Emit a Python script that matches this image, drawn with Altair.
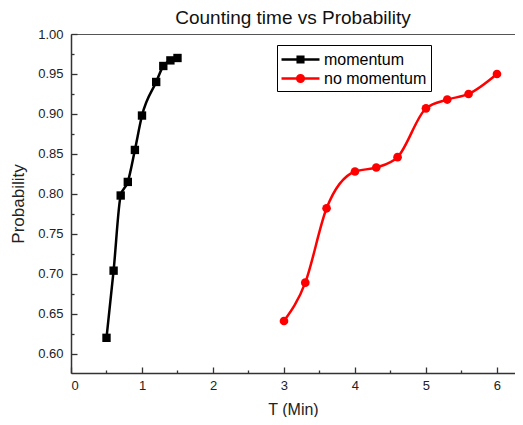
import altair as alt
import pandas as pd

# ---- data ----
mom_t = [0.5, 0.6, 0.7, 0.8, 0.9, 1.0, 1.2, 1.3, 1.4, 1.5]
mom_p = [0.620, 0.704, 0.798, 0.815, 0.855, 0.898, 0.940, 0.960, 0.967, 0.970]
nomom_t = [3.0, 3.3, 3.6, 4.0, 4.3, 4.6, 5.0, 5.3, 5.6, 6.0]
nomom_p = [0.641, 0.689, 0.782, 0.828, 0.833, 0.846, 0.907, 0.918, 0.925, 0.950]
series_names = ["momentum", "no momentum"]
series_colors = ["#000000", "#ff0000"]
x_major = [0, 1, 2, 3, 4, 5, 6]
x_minor = [0.5, 1.5, 2.5, 3.5, 4.5, 5.5]
y_major = [0.60, 0.65, 0.70, 0.75, 0.80, 0.85, 0.90, 0.95, 1.00]
y_minor = [0.625, 0.675, 0.725, 0.775, 0.825, 0.875, 0.925, 0.975]

FONT = "Liberation Sans"
AX = "#333333"
X_MAX = 6.254
Y_MIN, Y_MAX = 0.576, 1.0

mom = pd.DataFrame({"t": mom_t, "p": mom_p, "series": series_names[0]})
nom = pd.DataFrame({"t": nomom_t, "p": nomom_p, "series": series_names[1]})
allpts = pd.concat([mom, nom], ignore_index=True)

xs = alt.Scale(domain=[0, X_MAX], nice=False, zero=False)
ys = alt.Scale(domain=[Y_MIN, Y_MAX], nice=False, zero=False)


def X(axis):
    return alt.X("t:Q", scale=xs, axis=axis)


def Y(axis):
    return alt.Y("p:Q", scale=ys, axis=axis)


main_x = alt.Axis(orient="bottom", values=x_major, format="d", title="T (Min)",
                  ticks=False, tickSize=0, labelPadding=6, grid=False,
                  domainColor=AX, domainWidth=1.5, labelFontSize=13,
                  titleFontSize=16, titlePadding=9, labelColor="#222222",
                  titleColor="#222222", titleFontWeight="normal")
main_y = alt.Axis(orient="left", values=y_major, format=".2f", title="Probability",
                  ticks=False, tickSize=0, labelPadding=8, grid=False,
                  domainColor=AX, domainWidth=1.5, labelFontSize=13,
                  titleFontSize=17, titlePadding=10, labelColor="#222222",
                  titleColor="#222222", titleFontWeight="normal")


def tick_axis(orient, vals, size):
    return alt.Axis(orient=orient, values=vals, tickSize=size, offset=-size,
                    labels=False, domain=False, grid=False, title=None,
                    tickColor=AX, tickWidth=1.3)


l_mom_line = alt.Chart(mom).mark_line(color=series_colors[0], strokeWidth=2.5,
                                      interpolate="monotone").encode(x=X(main_x), y=Y(main_y))
l_mom_pts = alt.Chart(mom).mark_square(color=series_colors[0], size=70, opacity=1).encode(
    x=X(None), y=Y(None))
l_nom_line = alt.Chart(nom).mark_line(color=series_colors[1], strokeWidth=2.5,
                                      interpolate="monotone").encode(x=X(None), y=Y(None))
l_nom_pts = alt.Chart(nom).mark_circle(color=series_colors[1], size=75, opacity=1).encode(
    x=X(None), y=Y(None))

# legend symbols: a line segment with the series marker (18 px symbol box, path shifted right)
sq_path = "M-1.11,0H3.11M0.69,-0.31H1.31V0.31H0.69Z"
ci_path = "M-1.11,0H3.11M1.37,0A0.37,0.37,0,1,1,0.63,0A0.37,0.37,0,1,1,1.37,0Z"
leg = alt.Legend(orient="none", legendX=206, legendY=11, title=None,
                 strokeColor="#000000", fillColor="#ffffff", padding=4,
                 labelFont=FONT, labelFontSize=16, labelColor="#000000",
                 labelOffset=22, symbolSize=324, symbolStrokeWidth=2.5,
                 rowPadding=0, symbolOpacity=1, cornerRadius=0)
l_legend = alt.Chart(allpts).transform_filter("false").mark_point(filled=True).encode(
    fill=alt.Fill("series:N", scale=alt.Scale(domain=series_names, range=series_colors), legend=leg),
    stroke=alt.Stroke("series:N", scale=alt.Scale(domain=series_names, range=series_colors), legend=leg),
    shape=alt.Shape("series:N", scale=alt.Scale(domain=series_names, range=[sq_path, ci_path]), legend=leg),
)

l_major = alt.Chart(allpts).mark_point(opacity=0).encode(
    x=X(tick_axis("bottom", x_major, 6)), y=Y(tick_axis("left", y_major, 6)))
l_minor = alt.Chart(allpts).mark_point(opacity=0).encode(
    x=X(tick_axis("bottom", x_minor, 3)), y=Y(tick_axis("left", y_minor, 3)))
l_top = alt.Chart(allpts).mark_point(opacity=0).encode(
    x=X(alt.Axis(orient="top", ticks=False, labels=False, grid=False, title=None,
                 domainColor="#555555", domainWidth=1.2)),
    y=Y(None))

chart = alt.layer(l_mom_line, l_nom_line, l_mom_pts, l_nom_pts, l_legend,
                  l_major, l_minor, l_top).resolve_axis(
    x="independent", y="independent"
).properties(
    width=444, height=339,
    title=alt.TitleParams("Counting time vs Probability", font=FONT, fontSize=19,
                          fontWeight="normal", color="#111111", anchor="middle", offset=0),
    autosize=alt.AutoSizeParams(type="none"),
    padding={"left": 63, "top": 26, "right": 0, "bottom": 44},
).configure_view(stroke=None).configure_axis(
    labelFont=FONT, titleFont=FONT
).configure(background="#ffffff")

chart.save("out.html", embed_options={"renderer": "svg", "actions": False})
